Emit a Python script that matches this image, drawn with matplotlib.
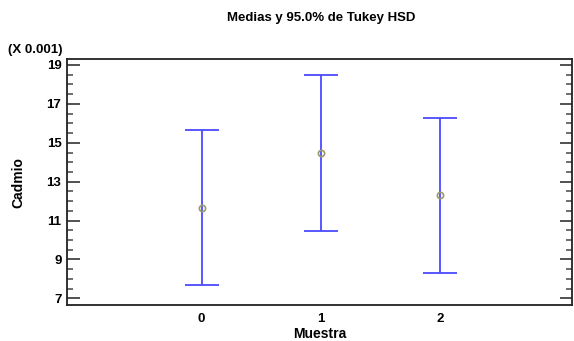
import numpy as np
import matplotlib.pyplot as plt
from matplotlib.ticker import AutoMinorLocator

plt.rcParams['font.family'] = ['Liberation Sans', 'DejaVu Sans']

muestras = ['0', '1', '2']
medias = [11.67, 14.47, 12.29]
inferior = [7.68, 10.46, 8.29]
superior = [15.66, 18.47, 16.29]

x = np.arange(len(muestras))
med = np.array(medias)
err = [med - np.array(inferior), np.array(superior) - med]

fig = plt.figure(figsize=(5.74, 3.41), dpi=100)
ax = fig.add_axes([0.1167, 0.1056, 0.88, 0.7204])

ax.errorbar(x, med, yerr=err, fmt='none', ecolor='#4a4aff', elinewidth=1.3,
            capsize=12, capthick=1.3)
ax.plot(x, med, 'o', ms=4.5, mfc='none', mec='#9a9a6a', mew=1.2)

ax.set_xlim(-1.13, 3.11)
ax.set_ylim(6.66, 19.29)
ax.set_xticks(x)
ax.set_xticklabels(muestras)
ax.set_yticks([7, 9, 11, 13, 15, 17, 19])
ax.yaxis.set_minor_locator(AutoMinorLocator(4))

ax.tick_params(axis='x', length=0, labelsize=9.5, pad=6)
ax.tick_params(axis='y', which='major', direction='in', length=9, width=1.2,
               color='#333333', left=True, right=True, labelsize=9.5, pad=4)
ax.tick_params(axis='y', which='minor', direction='in', length=4, width=1.2,
               color='#555555', left=True, right=True)
for lab in ax.get_xticklabels() + ax.get_yticklabels():
    lab.set_fontweight('bold')

for s in ax.spines.values():
    s.set_linewidth(1.3)
    s.set_color('#222222')

ax.set_xlabel('Muestra', fontsize=10, fontweight='bold', labelpad=1.5)
ax.set_ylabel('Cadmio', fontsize=10, fontweight='bold', labelpad=15)
fig.text(0.559, 0.947, 'Medias y 95.0% de Tukey HSD', ha='center', va='center',
         fontsize=9.5, fontweight='bold')
fig.text(0.014, 0.853, '(X 0.001)', ha='left', va='center', fontsize=9.5,
         fontweight='bold')

fig.savefig('out.png', dpi=100)
